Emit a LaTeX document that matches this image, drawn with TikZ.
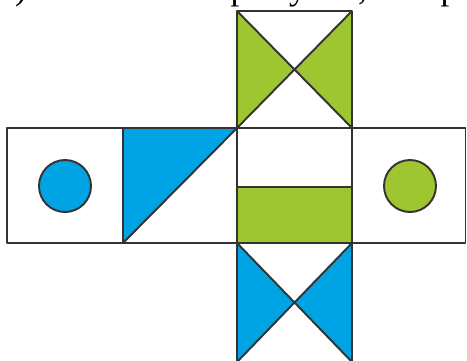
\documentclass[tikz,border=0pt]{standalone}
\usepackage{fontspec}
\setmainfont{Liberation Serif}
\usetikzlibrary{positioning}
\definecolor{netBlue}{RGB}{0,163,228}
\definecolor{netGreen}{RGB}{157,198,48}
\tikzset{
    % Colors
    faceBlue/.style={fill=netBlue},
    faceGreen/.style={fill=netGreen},
    % Lines
    edge/.style={draw=black!80, line width=1.1pt, line join=round},
    caption/.style={anchor=base west, inner sep=0pt, font=\fontsize{20}{24}\selectfont}
}

\begin{document}
\begin{tikzpicture}[x=0.02cm, y=-0.02cm]

\useasboundingbox (0,0) rectangle (467,360);
\clip (0,0) rectangle (467,360);

% caption, cut off at the top
\node[caption] (cap) at (-3,-1) {б) запиши номера кубов, которые};

% corners of the net
\coordinate (t1) at (237,11);   \coordinate (t2) at (352,11);
\coordinate (a1) at (7,128);    \coordinate (a2) at (123,128);
\coordinate (a3) at (237,128);  \coordinate (a4) at (352,128);
\coordinate (a5) at (465.5,128);
\coordinate (b1) at (7,243);    \coordinate (b2) at (123,243);
\coordinate (b3) at (237,243);  \coordinate (b4) at (352,243);
\coordinate (b5) at (465.5,243);
\coordinate (u3) at (237,362);  \coordinate (u4) at (352,362);
\coordinate (tc) at (294.5,69.5);
\coordinate (uc) at (294.5,302.5);

% top face
\path[faceGreen] (t1) -- (tc) -- (a3) -- cycle;
\path[faceGreen] (t2) -- (tc) -- (a4) -- cycle;
\draw[edge] (t1) rectangle (a4);
\draw[edge] (t1) -- (a4) (t2) -- (a3);

% left face with circle
\draw[edge] (a1) rectangle (b2);
\draw[edge, faceBlue] (65,186) circle (26);

% triangle face
\path[faceBlue] (a2) -- (a3) -- (b2) -- cycle;
\draw[edge] (a2) rectangle (b3);
\draw[edge] (b2) -- (a3);

% middle face with stripe
\path[faceGreen] (237,187) rectangle (b4);
\draw[edge] (a3) rectangle (b4);
\draw[edge] (237,187) -- (352,187);

% right face with circle
\draw[edge] (a4) rectangle (b5);
\draw[edge, faceGreen] (410,186) circle (26);

% bottom face
\path[faceBlue] (b3) -- (uc) -- (u3) -- cycle;
\path[faceBlue] (b4) -- (uc) -- (u4) -- cycle;
\draw[edge] (b3) -- (u3) (b4) -- (u4);
\draw[edge] (b3) -- (u4) (b4) -- (u3);

\end{tikzpicture}
\end{document}
